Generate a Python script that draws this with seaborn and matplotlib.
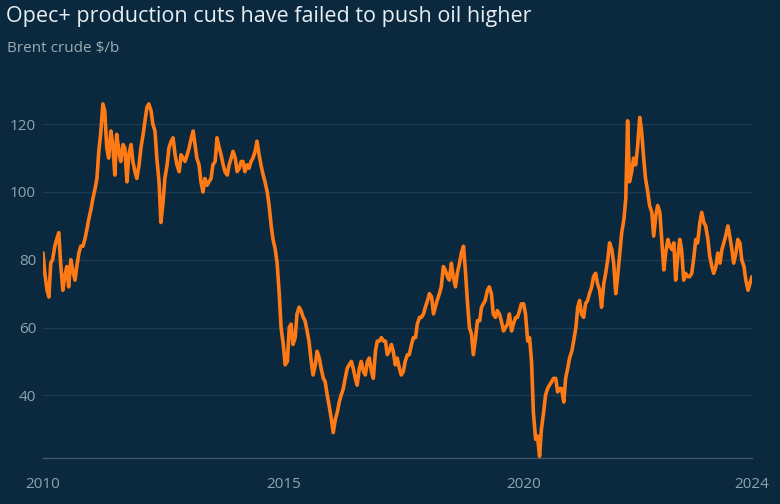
import matplotlib
matplotlib.use('Agg')
import matplotlib.pyplot as plt
import seaborn as sns
import pandas as pd
import numpy as np

BG = '#0a293e'
ORANGE = '#ff7a14'
GRID = '#1d3b50'
AXIS = '#3a5668'
TICK = '#8da3ae'
TITLE = '#e8eef2'
SUB = '#9aabb4'

brent_2010 = [82, 76, 71, 69, 79, 80, 84, 86, 88, 79, 71, 75, 78, 72, 80, 77, 74, 78, 82, 84, 84, 86, 89, 92]
brent_2011 = [95, 98, 101, 104, 112, 117, 126, 124, 113, 110, 118, 114, 105, 117, 112, 109, 114, 113, 103, 111, 114, 109, 106, 104]
brent_2012 = [108, 113, 117, 121, 125, 126, 124, 120, 118, 110, 103, 91, 97, 104, 108, 113, 115, 116, 111, 108, 106, 111, 110, 109]
brent_2013 = [111, 113, 116, 118, 114, 110, 108, 103, 100, 104, 102, 103, 104, 108, 109, 116, 113, 111, 108, 106, 105, 108, 110, 112]
brent_2014 = [110, 106, 107, 109, 109, 106, 108, 107, 109, 110, 112, 115, 111, 108, 105, 103, 100, 96, 90, 86, 83, 79, 70, 60]
brent_2015 = [55, 49, 50, 60, 61, 55, 57, 64, 66, 65, 63, 62, 59, 56, 50, 46, 49, 53, 51, 48, 45, 44, 40, 37]
brent_2016 = [33, 29, 33, 35, 38, 40, 42, 45, 48, 49, 50, 48, 45, 43, 48, 50, 47, 46, 50, 51, 47, 45, 53, 56]
brent_2017 = [56, 57, 56, 56, 52, 53, 55, 53, 49, 51, 48, 46, 47, 50, 52, 52, 55, 57, 57, 61, 63, 63, 64, 66]
brent_2018 = [68, 70, 69, 64, 66, 68, 70, 72, 78, 77, 75, 74, 79, 75, 72, 76, 79, 82, 84, 77, 67, 60, 58, 52]
brent_2019 = [57, 62, 62, 66, 67, 68, 71, 72, 70, 64, 63, 65, 64, 62, 59, 60, 61, 64, 59, 61, 63, 63, 65, 67]
brent_2020 = [67, 64, 56, 57, 50, 35, 27, 28, 22, 30, 35, 40, 42, 43, 44, 45, 45, 41, 42, 42, 38, 45, 48, 51]
brent_2021 = [53, 56, 60, 66, 68, 64, 63, 67, 68, 70, 72, 75, 76, 73, 71, 66, 73, 76, 80, 85, 83, 79, 70, 75]
brent_2022 = [82, 88, 92, 98, 121, 103, 106, 110, 108, 113, 122, 118, 110, 104, 100, 96, 94, 87, 93, 96, 94, 86, 77, 82]
brent_2023 = [86, 84, 83, 85, 74, 80, 86, 83, 74, 76, 75, 75, 76, 80, 86, 85, 91, 94, 91, 90, 86, 81, 78, 76]
brent_2024 = [78, 82, 79, 83, 85, 87, 90, 87, 83, 79, 82, 86, 85, 80, 78, 74, 71, 73, 75]

prices = (brent_2010 + brent_2011 + brent_2012 + brent_2013 + brent_2014 + brent_2015 + brent_2016
          + brent_2017 + brent_2018 + brent_2019 + brent_2020 + brent_2021 + brent_2022 + brent_2023 + brent_2024)
dates = pd.date_range('2010-01-01', periods=len(prices), freq='SMS')
df = pd.DataFrame({'date': dates, 'brent': prices})

y_ticks = [40, 60, 80, 100, 120]
x_ticks = [pd.Timestamp('2010-01-01'), pd.Timestamp('2015-01-01'), pd.Timestamp('2020-01-01'), dates[-1]]
x_labels = ['2010', '2015', '2020', '2024']

sns.set_theme(style='white')
plt.rcParams['font.family'] = ['Open Sans', 'DejaVu Sans']

fig = plt.figure(figsize=(7.8, 5.04), dpi=100, facecolor=BG)
ax = fig.add_axes([0.0551, 0.0913, 0.909, 0.716])
ax.set_facecolor(BG)

sns.lineplot(data=df, x='date', y='brent', color=ORANGE, linewidth=2.6, ax=ax, zorder=3)

ax.set_ylim(21.5, 128)
ax.set_xlim(dates[0], dates[-1])
ax.set_yticks(y_ticks)
ax.set_xticks(x_ticks)
ax.set_xticklabels(x_labels)
ax.yaxis.grid(True, color=GRID, linewidth=1)
ax.set_axisbelow(True)
ax.set_xlabel('')
ax.set_ylabel('')

for side in ['top', 'right', 'left']:
    ax.spines[side].set_visible(False)
ax.spines['bottom'].set_color(AXIS)
ax.spines['bottom'].set_linewidth(1)

ax.tick_params(axis='y', length=0, pad=5, labelsize=11, labelcolor=TICK)
ax.tick_params(axis='x', length=6, width=1, color=AXIS, pad=8, labelsize=11, labelcolor=TICK)

fig.text(0.008, 0.988, 'Opec+ production cuts have failed to push oil higher',
         color=TITLE, fontsize=15.5, va='top', ha='left')
fig.text(0.009, 0.918, 'Brent crude $/b', color=SUB, fontsize=11, va='top', ha='left')

fig.savefig('out.png', dpi=100, facecolor=BG)
